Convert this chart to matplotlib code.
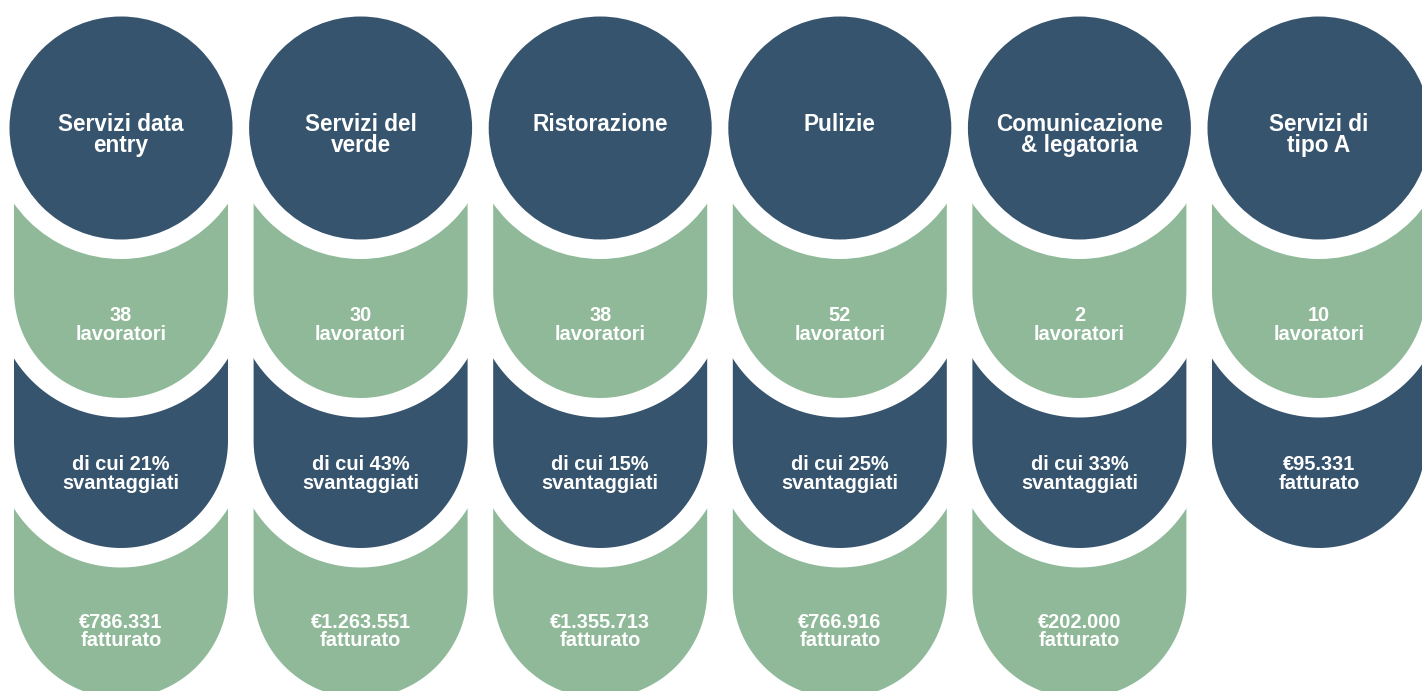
import matplotlib
matplotlib.use("Agg")
import matplotlib.pyplot as plt
import numpy as np
from matplotlib.patches import Circle, Polygon

# ---- data ----
categories = ["Servizi data\nentry", "Servizi del\nverde", "Ristorazione",
              "Pulizie", "Comunicazione\n& legatoria", "Servizi di\ntipo A"]
workers = [38, 30, 38, 52, 2, 10]
disadvantaged_pct = [21, 43, 15, 25, 33, None]
revenue = [786331, 1263551, 1355713, 766916, 202000, 95331]

DARK = "#36546d"
GREEN = "#8fb999"

W, H = 1422, 691
fig = plt.figure(figsize=(W / 100, H / 100), dpi=100)
ax = fig.add_axes([0, 0, 1, 1])
ax.set_xlim(0, W)
ax.set_ylim(H, 0)
ax.axis("off")

font = ["Liberation Sans", "DejaVu Sans"]

x0, dx = 121, 239.6
circ_cy, circ_r = 128, 111.5
gap = 19.5
u_w = 107
u_bottoms = [398, 548, 698]
text_y = [315, 464, 622]


def fmt_eur(v):
    return "€" + f"{v:,}".replace(",", ".")


def u_shape(cx, top, bottom, w):
    cy = bottom - w
    th = np.linspace(np.pi, 0, 80)
    xs = cx + w * np.cos(th)
    ys = cy + w * np.sin(th)
    pts = [(cx - w, top)] + list(zip(xs, ys)) + [(cx + w, top)]
    return pts


for i, cat in enumerate(categories):
    cx = x0 + dx * i
    segs = [f"{workers[i]}\nlavoratori"]
    if disadvantaged_pct[i] is not None:
        segs.append(f"di cui {disadvantaged_pct[i]}%\nsvantaggiati")
    segs.append(fmt_eur(revenue[i]) + "\nfatturato")
    n = len(segs)
    # draw from bottom up
    for k in range(n - 1, -1, -1):
        color = GREEN if k % 2 == 0 else DARK
        bottom = u_bottoms[k]
        top = circ_cy if k == 0 else u_bottoms[k - 1] - u_w
        if k < n - 1:
            ax.add_patch(Polygon(u_shape(cx, top, bottom + gap, u_w + gap),
                                 closed=True, facecolor="white", edgecolor="none", zorder=2 + 2 * (n - k)))
        ax.add_patch(Polygon(u_shape(cx, top, bottom, u_w), closed=True,
                             facecolor=color, edgecolor="none", zorder=3 + 2 * (n - k)))
        lines = segs[k].split("\n")
        for j, ln in enumerate(lines):
            ax.text(cx, text_y[k] + 19 * j, ln, ha="center", va="center",
                    color="white", fontsize=14.4, fontweight="bold",
                    family=font, zorder=50)
    ax.add_patch(Circle((cx, circ_cy), circ_r + gap, facecolor="white", edgecolor="none", zorder=40))
    ax.add_patch(Circle((cx, circ_cy), circ_r, facecolor=DARK, edgecolor="none", zorder=41))
    for j, ln in enumerate(cat.split("\n")):
        ax.text(cx, 124 + 21 * j, ln, ha="center", va="center", color="white",
                fontsize=16.3, fontweight="bold", family=font, zorder=50)

fig.savefig("out.png", dpi=100, facecolor="white")
